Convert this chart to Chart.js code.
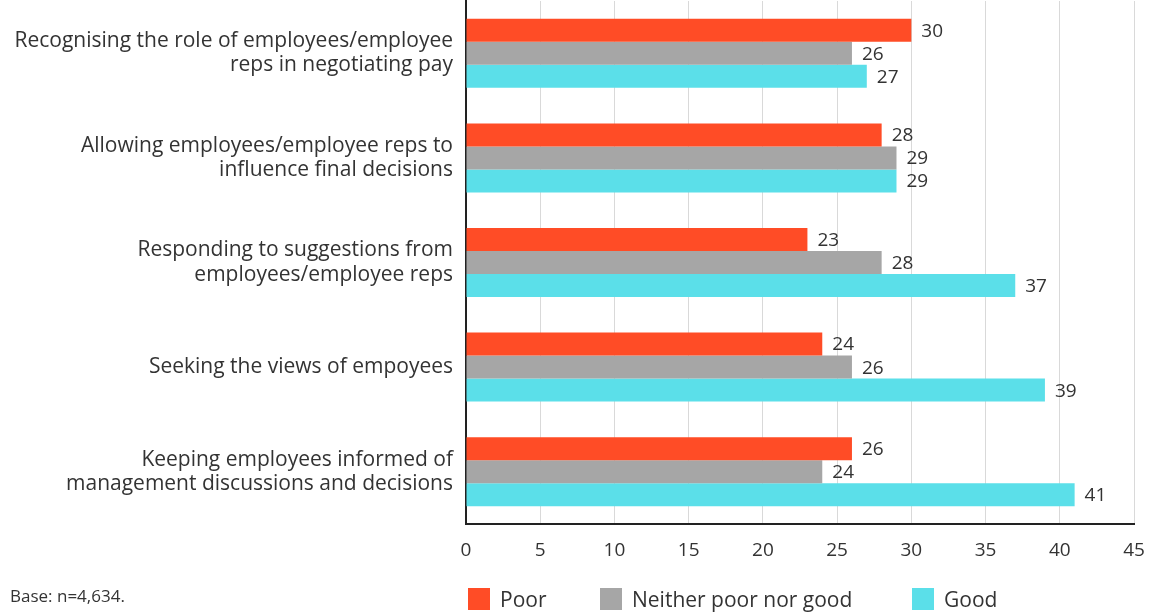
<!DOCTYPE html>
<html>
<head>
<meta charset="utf-8">
<script src="https://cdn.jsdelivr.net/npm/chart.js@4.4.0/dist/chart.umd.min.js"></script>
<style>
  html, body { margin: 0; padding: 0; background: #fff; }
  #wrap { position: relative; width: 1153px; height: 612px; font-family: "Open Sans", sans-serif; color: #333; }
  #chart { position: absolute; left: 0; top: 0; }
  #base { position: absolute; left: 10px; top: 584px; font-size: 17px; color: #333; }
  .leg { position: absolute; top: 585px; display: flex; align-items: center; font-size: 21px; color: #333; }
  .leg span.box { display: inline-block; width: 22px; height: 22px; margin-right: 10px; }
</style>
</head>
<body>
<div id="wrap">
  <canvas id="chart" width="1153" height="612"></canvas>
  <div id="base">Base: n=4,634.</div>
  <div class="leg" style="left:468px"><span class="box" style="background:#ff4c26"></span>Poor</div>
  <div class="leg" style="left:600px"><span class="box" style="background:#a6a6a6"></span>Neither poor nor good</div>
  <div class="leg" style="left:912px"><span class="box" style="background:#5bdfe9"></span>Good</div>
</div>
<script>
// --- DADOS ---
const categories = [
    ['Recognising the role of employees/employee', 'reps in negotiating pay'],
    ['Allowing employees/employee reps to', 'influence final decisions'],
    ['Responding to suggestions from', 'employees/employee reps'],
    ['Seeking the views of empoyees'],
    ['Keeping employees informed of', 'management discussions and decisions']
];
const poor = [30, 28, 23, 24, 26];
const neither = [26, 29, 28, 26, 24];
const good = [27, 29, 37, 39, 41];
const xTicks = [0, 5, 10, 15, 20, 25, 30, 35, 40, 45];

const COLORS = { poor: '#ff4c26', neither: '#a6a6a6', good: '#5bdfe9' };
const FONT = "'Open Sans', sans-serif";

// valores escritos à direita de cada barra
const valueLabels = {
    id: 'valueLabels',
    afterDatasetsDraw(chart) {
        const ctx = chart.ctx;
        ctx.save();
        ctx.font = `19px ${FONT}`;
        ctx.fillStyle = '#333';
        ctx.textAlign = 'left';
        ctx.textBaseline = 'middle';
        chart.data.datasets.forEach((ds, i) => {
            chart.getDatasetMeta(i).data.forEach((bar, j) => {
                ctx.fillText(String(ds.data[j]), bar.x + 10, bar.y + 1);
            });
        });
        ctx.restore();
    }
};

const ctx = document.getElementById('chart').getContext('2d');
new Chart(ctx, {
    type: 'bar',
    data: {
        labels: categories,
        datasets: [
            { label: 'Poor', data: poor, backgroundColor: COLORS.poor },
            { label: 'Neither poor nor good', data: neither, backgroundColor: COLORS.neither },
            { label: 'Good', data: good, backgroundColor: COLORS.good }
        ]
    },
    options: {
        indexAxis: 'y',
        responsive: false,
        animation: false,
        layout: { padding: { top: 1, right: 19, left: 0, bottom: 0 } },
        datasets: { bar: { categoryPercentage: 0.66, barPercentage: 1 } },
        plugins: { legend: { display: false }, tooltip: { enabled: false } },
        scales: {
            x: {
                min: 0, max: 45,
                afterBuildTicks: (axis) => { axis.ticks = xTicks.map(v => ({ value: v })); },
                grid: { color: '#d9d9d9', lineWidth: 1, tickLength: 0 },
                border: { color: '#222', width: 2 },
                ticks: { color: '#333', padding: 15, font: { family: FONT, size: 19 } },
                afterFit: (axis) => {
                    axis.height = 88;
                    axis.paddingLeft = 0;
                    axis.paddingRight = 0;
                }
            },
            y: {
                grid: { display: false, drawTicks: false, tickLength: 0 },
                border: { color: '#222', width: 2 },
                ticks: { color: '#333', padding: 13, font: { family: FONT, size: 21, lineHeight: 1.15 } },
                afterFit: (axis) => {
                    axis.width = 466;
                    axis.paddingTop = 0;
                    axis.paddingBottom = 0;
                }
            }
        }
    },
    plugins: [valueLabels]
});
</script>
</body>
</html>
